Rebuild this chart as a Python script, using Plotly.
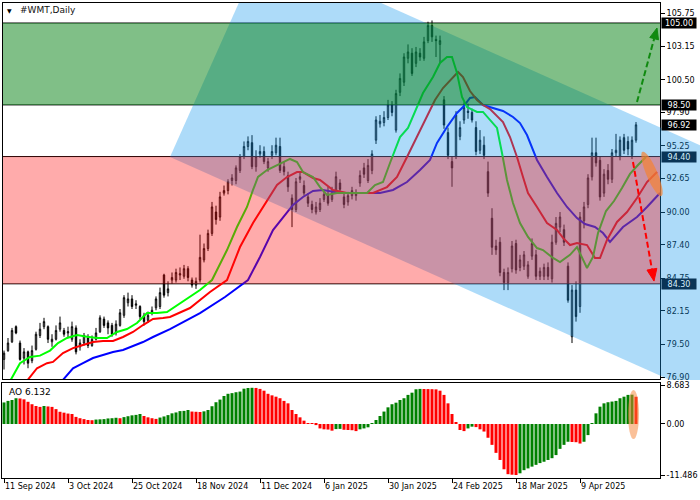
import math
import plotly.graph_objects as go

# ---------------- data ----------------
DATE_LABELS = ["11 Sep 2024", "3 Oct 2024", "25 Oct 2024", "18 Nov 2024", "11 Dec 2024",
               "6 Jan 2025", "30 Jan 2025", "24 Feb 2025", "18 Mar 2025", "9 Apr 2025"]
DATE_TICK_BARS = [0, 16, 32, 48, 64, 80, 96, 112, 128, 144]

OPEN = [78.3, 79.0, 79.7, 80.9, 79.6, 78.4, 78.9, 78.2, 79.1, 80.2,
        80.9, 80.9, 79.7, 79.9, 80.7, 80.6, 80.4, 79.9, 80.8, 79.3,
        79.6, 80.0, 79.4, 79.9, 80.5, 81.5, 81.2, 81.0, 80.4, 81.0,
        81.8, 82.8, 83.1, 82.6, 82.5, 81.8, 81.4, 82.0, 82.4, 82.5,
        85.0, 83.6, 84.6, 84.6, 85.0, 84.9, 85.5, 84.6, 84.2, 84.6,
        86.2, 87.1, 88.3, 90.0, 89.6, 91.5, 91.7, 92.5, 92.5, 93.3,
        94.4, 95.2, 95.5, 93.6, 94.6, 94.8, 93.5, 94.5, 94.7, 95.2,
        93.6, 92.9, 91.1, 90.2, 92.6, 92.1, 91.2, 90.6, 90.0, 90.2,
        91.0, 91.4, 91.0, 91.7, 92.3, 91.2, 90.8, 91.3, 91.3, 92.3,
        93.5, 92.5, 93.3, 95.7, 97.0, 97.1, 97.5, 98.5, 96.5, 99.5,
        100.3, 102.2, 102.6, 101.8, 102.6, 102.2, 103.6, 104.8, 103.7, 103.3,
        98.9, 96.3, 94.0, 94.4, 96.0, 97.3, 98.0, 97.9, 96.7, 94.9,
        95.3, 93.2, 89.5, 87.3, 87.6, 85.2, 84.4, 85.5, 87.5, 85.6,
        85.7, 84.9, 86.5, 86.6, 84.9, 84.9, 85.6, 84.7, 87.6, 88.8,
        88.6, 85.7, 80.1, 83.8, 82.5, 89.3, 90.6, 92.8, 94.7, 94.1,
        91.5, 93.3, 92.6, 94.7, 94.4, 95.9, 95.6, 94.5, 95.7]
HIGH = [79.0, 80.0, 80.8, 81.0, 79.8, 79.2, 79.0, 79.4, 80.5, 81.2,
        81.6, 81.0, 80.3, 81.0, 81.7, 80.8, 80.9, 81.3, 81.0, 79.9,
        80.4, 80.3, 80.2, 80.8, 81.8, 81.7, 81.4, 81.2, 81.4, 82.3,
        83.4, 83.6, 83.4, 83.0, 82.6, 82.0, 82.1, 82.5, 83.3, 84.0,
        85.1, 84.5, 85.2, 85.5, 85.6, 85.8, 85.7, 84.8, 84.8, 88.2,
        87.5, 88.6, 90.8, 90.5, 91.6, 92.1, 92.6, 93.0, 93.7, 94.6,
        95.6, 96.0, 96.1, 94.9, 95.3, 95.2, 94.3, 95.3, 95.9, 95.9,
        94.0, 93.2, 91.4, 92.7, 93.2, 92.5, 91.5, 90.9, 90.8, 91.1,
        91.7, 92.0, 92.0, 93.2, 92.6, 91.5, 91.6, 92.0, 91.8, 93.3,
        93.9, 94.2, 94.9, 97.6, 97.7, 98.0, 98.9, 98.8, 99.7, 101.0,
        102.6, 103.3, 103.0, 103.1, 103.0, 103.9, 105.1, 105.2, 104.0, 104.0,
        99.2, 96.7, 94.4, 98.0, 97.2, 98.7, 98.6, 98.2, 97.2, 96.5,
        96.0, 94.0, 90.3, 87.8, 88.0, 85.5, 85.6, 87.7, 87.8, 86.6,
        86.9, 86.1, 87.9, 87.0, 85.6, 85.9, 86.0, 88.2, 89.6, 90.0,
        89.0, 86.0, 84.2, 84.5, 90.0, 90.8, 93.0, 95.9, 95.9, 94.4,
        93.4, 93.8, 95.0, 96.2, 96.0, 96.2, 96.0, 96.0, 97.14]
LOW = [77.5, 78.9, 79.6, 80.3, 78.2, 77.9, 77.6, 78.0, 79.0, 80.0,
       80.7, 79.6, 79.3, 79.8, 80.5, 80.1, 80.0, 79.7, 78.7, 79.0,
       79.4, 79.2, 79.3, 79.8, 80.4, 80.8, 80.3, 80.1, 80.2, 80.9,
       81.6, 82.5, 82.3, 82.3, 81.5, 81.0, 81.2, 81.8, 82.2, 82.3,
       83.2, 83.3, 84.3, 84.4, 84.6, 84.7, 84.5, 84.0, 83.9, 84.4,
       86.0, 86.9, 88.1, 89.0, 89.3, 91.3, 91.4, 92.1, 92.2, 93.1,
       94.2, 94.9, 93.4, 93.2, 94.3, 93.8, 93.2, 94.2, 94.5, 93.1,
       92.9, 91.6, 88.8, 90.0, 92.3, 91.3, 90.4, 89.9, 89.8, 90.0,
       90.8, 90.5, 90.8, 91.5, 91.5, 90.3, 90.5, 91.0, 90.9, 92.0,
       92.7, 92.3, 93.0, 95.4, 96.7, 96.8, 97.3, 97.6, 96.3, 99.2,
       100.0, 101.8, 100.8, 101.5, 102.0, 102.0, 103.4, 103.5, 102.3, 101.8,
       96.6, 94.2, 92.0, 94.2, 95.7, 97.0, 97.4, 97.1, 94.5, 94.6,
       94.2, 91.2, 86.6, 86.6, 84.9, 83.8, 83.8, 85.2, 85.1, 85.3,
       85.4, 84.7, 86.2, 84.6, 84.6, 84.6, 84.6, 84.4, 87.4, 88.4,
       87.3, 82.8, 79.6, 81.3, 82.0, 88.7, 90.3, 92.5, 93.6, 90.9,
       91.2, 92.2, 92.3, 94.4, 94.1, 94.6, 94.5, 94.2, 95.5]
CLOSE = [78.8, 79.6, 80.6, 80.4, 78.3, 78.9, 78.0, 79.0, 80.3, 80.7,
         81.3, 79.9, 79.9, 80.6, 81.2, 80.3, 80.5, 80.9, 78.9, 79.6,
         80.2, 79.4, 79.9, 80.4, 81.6, 81.0, 80.8, 80.3, 81.1, 82.0,
         83.2, 83.1, 82.5, 82.7, 81.7, 81.3, 81.8, 82.2, 83.1, 83.6,
         83.4, 83.9, 84.8, 85.2, 85.1, 85.5, 84.8, 84.2, 84.5, 86.4,
         87.1, 88.3, 90.4, 89.4, 91.2, 91.7, 92.4, 92.7, 93.5, 94.4,
         95.2, 95.6, 93.6, 94.4, 94.8, 94.0, 94.0, 94.8, 95.3, 93.3,
         93.2, 92.0, 90.2, 92.4, 92.8, 91.5, 90.7, 90.2, 90.4, 90.7,
         91.4, 90.7, 91.5, 92.8, 91.8, 90.6, 91.3, 91.7, 91.5, 92.9,
         93.0, 93.7, 94.6, 97.3, 97.2, 97.5, 98.5, 97.9, 99.4, 100.6,
         102.3, 102.7, 101.0, 102.7, 102.3, 103.5, 104.8, 103.9, 103.6, 103.6,
         96.9, 94.5, 93.5, 97.7, 96.7, 98.3, 97.9, 97.3, 94.8, 95.7,
         94.5, 91.5, 87.2, 87.0, 85.2, 84.4, 85.2, 87.3, 85.4, 86.2,
         86.6, 85.8, 87.5, 84.9, 85.3, 85.6, 84.9, 87.6, 89.1, 89.6,
         87.6, 83.0, 83.8, 81.7, 89.6, 90.4, 92.7, 94.7, 93.9, 91.2,
         93.0, 92.6, 94.7, 94.9, 95.7, 94.9, 95.0, 95.7, 96.92]

# Alligator lines (bar position, price)
JAW_X = [14.0, 17.25, 19.75, 22.25, 24.75, 27.25, 29.75, 32.25, 34.75, 37.25, 39.75, 41.5,
         49.0, 55.25, 61.0, 64.0, 67.25, 69.75, 72.25, 74.75, 77.25, 79.75, 84.0, 89.0,
         94.0, 97.25, 100.75, 104.0, 106.5, 108.25, 110.75, 113.25, 114.75, 116.5, 117.75,
         119.75, 124.75, 127.25, 129.0, 130.75, 132.25, 133.25, 135.75, 138.25, 140.75,
         143.25, 145.25, 147.75, 149.75, 151.5, 154.75, 158.25, 160.75, 164.0]
JAW_Y = [76.4, 77.6, 78.0, 78.41, 78.65, 78.89, 79.05, 79.37, 79.68, 80.08, 80.48, 80.71,
         81.98, 83.25, 84.6, 86.43, 88.57, 89.6, 90.56, 91.19, 91.67, 91.75, 91.51, 91.51,
         91.51, 91.75, 92.38, 93.33, 94.13, 95.48, 96.75, 97.86, 98.33, 99.05, 99.13,
         98.49, 98.02, 97.54, 97.06, 96.11, 94.92, 94.13, 92.78, 91.51, 90.4,
         89.52, 89.05, 88.81, 88.33, 87.62, 88.81, 89.6, 90.4, 91.51]

TEETH_X = [5.5, 8.25, 10.75, 12.25, 14.75, 17.25, 19.75, 22.25, 24.75, 27.25, 29.75, 32.25,
           34.75, 37.25, 39.75, 41.5, 46.5, 51.5, 55.75, 59.0, 62.25, 65.75, 68.25, 70.75,
           73.25, 74.75, 77.25, 79.0, 82.25, 85.75, 89.0, 92.25, 95.75, 98.25, 100.75,
           103.25, 105.75, 107.75, 109.75, 112.0, 113.5, 114.75, 116.5, 118.25, 119.75,
           121.5, 124.75, 126.5, 128.25, 129.75, 131.0, 133.25, 135.75, 138.25, 139.75,
           141.5, 143.25, 145.75, 147.75, 149.0, 150.75, 153.25, 155.75, 158.25, 160.75, 163.25]
TEETH_Y = [76.5, 77.6, 78.0, 78.1, 78.8, 79.2, 79.44, 79.68, 79.76, 79.76, 80.08, 80.48,
           81.03, 81.51, 81.59, 81.67, 82.38, 83.65, 84.6, 87.22, 89.13, 90.95, 92.14, 92.78,
           93.17, 93.17, 92.7, 92.54, 91.75, 91.51, 91.51, 91.51, 91.98, 92.78, 94.37,
           95.95, 97.54, 98.89, 99.84, 100.63, 101.11, 100.71, 99.6, 98.89, 98.49,
           98.17, 97.14, 95.95, 94.37, 92.78, 91.51, 90.4, 89.13, 88.57, 87.94,
           87.38, 87.54, 87.38, 86.35, 86.35, 87.78, 89.21, 90.0, 91.11, 92.38, 93.17]

LIPS_X = [0.5, 4.0, 6.5, 9.0, 11.5, 13.5, 15.75, 18.25, 20.75, 23.25, 25.75, 28.25, 30.75,
          33.25, 35.75, 38.25, 40.75, 41.5, 46.5, 49.0, 52.0, 55.75, 58.25, 60.75, 62.25,
          63.5, 65.75, 68.25, 69.75, 71.5, 73.25, 74.75, 77.25, 79.0, 80.75, 83.25, 87.25,
          90.75, 92.75, 94.75, 96.5, 99.0, 101.0, 103.25, 104.75, 107.25, 109.0, 110.75,
          112.0, 113.25, 114.5, 115.75, 118.25, 119.75, 121.5, 123.25, 124.5, 125.75,
          127.25, 129.0, 131.0, 133.25, 134.75, 137.25, 139.0, 141.5, 143.25, 144.5,
          145.75, 147.25, 148.5, 150.5, 152.5, 154.5, 156.5, 158.5, 160.5]
LIPS_Y = [76.0, 78.0, 78.5, 78.6, 79.0, 79.6, 80.0, 80.24, 80.1, 80.0, 80.0, 80.48, 80.71,
          81.19, 81.98, 81.98, 82.06, 82.22, 83.25, 83.81, 84.6, 86.98, 88.81, 90.4, 91.75,
          92.78, 93.33, 93.73, 93.97, 94.21, 93.97, 93.17, 92.78, 91.98, 91.35, 91.51, 91.51,
          91.51, 92.14, 92.38, 93.89, 95.95, 96.67, 98.33, 99.44, 100.71, 101.83, 102.3,
          102.3, 101.03, 99.13, 98.33, 97.94, 97.94, 97.3, 96.67, 94.68, 92.54,
          90.71, 89.13, 88.02, 87.14, 86.98, 86.35, 86.03, 86.6, 87.22, 86.4,
          85.56, 86.43, 88.33, 90.08, 90.87, 91.9, 93.02, 93.73, 94.37]

AO = [4.85, 5.2, 5.4, 5.8, 5.75, 5.55, 5.0, 4.45, 4.05, 3.85,
      4.05, 3.95, 3.85, 3.35, 2.75, 2.55, 2.35, 2.25, 1.6, 1.3,
      1.1, 0.9, 0.85, 1.0, 1.05, 1.1, 1.25, 1.3, 1.4, 1.3,
      1.55, 1.75, 1.95, 2.05, 2.25, 1.8, 1.5, 1.3, 1.15, 1.45,
      1.7, 2.0, 2.4, 2.6, 2.9, 2.95, 3.15, 2.8, 2.75, 2.7,
      2.85, 3.15, 4.0, 4.9, 5.5, 6.3, 6.8, 6.95, 7.15, 7.3,
      7.95, 8.1, 8.15, 8.12, 7.9, 7.5, 6.8, 6.45, 6.15, 5.8,
      5.2, 4.65, 3.15, 2.25, 1.5, 0.75, 0.2, 0.08, -0.25, -1.0,
      -1.2, -1.25, -1.5, -1.15, -1.1, -1.3, -1.35, -1.4, -1.6, -1.2,
      -1.0, -0.75, 0.15, 0.9, 1.8, 2.8, 3.75, 4.45, 4.8, 5.4,
      5.8, 6.55, 7.05, 7.82, 7.9, 7.88, 7.86, 7.84, 7.8, 7.5,
      6.55, 4.65, 2.25, 0.3, -1.35, -1.6, -1.0, -0.6, -0.7, -1.2,
      -1.7, -3.1, -4.7, -6.5, -8.1, -10.2, -11.3, -11.42, -11.486, -11.1,
      -10.4, -10.0, -9.6, -9.2, -8.8, -8.5, -8.1, -7.7, -7.0, -5.6,
      -4.7, -4.0, -4.05, -4.1, -4.4, -4.0, -2.5, 0.15, 2.4, 3.9,
      4.65, 4.9, 5.05, 5.2, 5.8, 6.15, 6.55, 6.6, 6.132]

PRICE_TICKS = [105.75, 103.15, 100.50, 97.90, 95.25, 92.65, 90.00, 87.40, 84.75, 82.15, 79.50, 76.90]
AO_TICKS = [8.683, 0.0, -11.486]
AO_TICK_TEXT = ["8.683", "0.00", "-11.486"]

GREEN_ZONE = (98.50, 105.00)
RED_ZONE = (84.30, 94.40)
LAST_PRICE = 96.92
# trend channel corners (bar position, price)
CHANNEL = [(41.5, 94.37), (64.6, 110.79), (189.0, 93.18), (189.0, 73.48)]
UP_ARROW = ((158.25, 98.73), (163.25, 104.6))
DOWN_ARROW = ((157.25, 93.97), (162.5, 84.52))
ELLIPSE_MAIN = (162.0, 93.02)

# ---------------- layout geometry ----------------
W, H = 700, 500
ML, MR, MT, MB = 2, 0, 2, 22
SCALE_W = 40                      # width of the price scale strip
PAPER_W = W - ML - MR
PLOT_W = PAPER_W - SCALE_W
XD = PLOT_W / PAPER_W             # right end of the chart area in paper units
PLOT_H = H - MT - MB
X_RANGE = [-0.5, 164.0]
PXB = PLOT_W / (X_RANGE[1] - X_RANGE[0])
X_RANGE_FULL = [X_RANGE[0], X_RANGE[1] + SCALE_W / PXB]   # main window runs under the price scale
Y_RANGE = [76.667, 106.667]
AO_RANGE = [-12.16, 9.23]
MAIN_DOM = [98 / PLOT_H, 1.0]
AO_DOM = [0.0, 95 / PLOT_H]
PXP = PLOT_H * (MAIN_DOM[1] - MAIN_DOM[0]) / (Y_RANGE[1] - Y_RANGE[0])

N = len(CLOSE)
BARS = list(range(N))

fig = go.Figure()
fig.add_trace(go.Candlestick(
    x=BARS, open=OPEN, high=HIGH, low=LOW, close=CLOSE,
    increasing=dict(line=dict(color="black", width=1), fillcolor="white"),
    decreasing=dict(line=dict(color="black", width=1), fillcolor="black"),
    whiskerwidth=0, showlegend=False, hoverinfo="skip", xaxis="x", yaxis="y"))

for xs, ys, col in [(JAW_X, JAW_Y, "#0000FF"), (TEETH_X, TEETH_Y, "#FF0000"), (LIPS_X, LIPS_Y, "#00FF00")]:
    fig.add_trace(go.Scatter(x=xs, y=ys, mode="lines", line=dict(color=col, width=2),
                             showlegend=False, hoverinfo="skip", xaxis="x", yaxis="y"))

ao_colors = ["#008000" if (i == 0 or AO[i] > AO[i - 1]) else "#FF0000" for i in range(N)]
fig.add_trace(go.Bar(x=BARS, y=AO, width=0.75, marker=dict(color=ao_colors, line=dict(width=0)),
                     showlegend=False, hoverinfo="skip", xaxis="x2", yaxis="y2"))

shapes = []
for lvl in [GREEN_ZONE[1], GREEN_ZONE[0], RED_ZONE[1], RED_ZONE[0]]:
    shapes.append(dict(type="line", xref="paper", x0=0, x1=XD, yref="y", y0=lvl, y1=lvl,
                       line=dict(color="black", width=1), layer="below"))
BLUE = "rgb(21,152,238)"
path = "M " + " L ".join(f"{x},{y}" for x, y in CHANNEL) + " Z"
shapes.append(dict(type="path", path=path, xref="x", yref="y", fillcolor=BLUE,
                   opacity=0.35, line=dict(width=0), layer="above"))
shapes.append(dict(type="rect", xref="paper", x0=0, x1=XD, yref="y", y0=RED_ZONE[0], y1=RED_ZONE[1],
                   fillcolor="rgb(255,13,13)", opacity=0.35, line=dict(width=0), layer="above"))
shapes.append(dict(type="rect", xref="paper", x0=0, x1=XD, yref="y", y0=GREEN_ZONE[0], y1=GREEN_ZONE[1],
                   fillcolor="rgb(1,127,15)", opacity=0.5, line=dict(width=0), layer="above"))

# frame of the price window (top, bottom, left)
eps_y = 0.5 / PXP
eps_x = 0.5 / PXB
for yv in (Y_RANGE[1] - eps_y, Y_RANGE[0] + eps_y):
    shapes.append(dict(type="line", xref="x", x0=X_RANGE[0], x1=X_RANGE[1], yref="y", y0=yv, y1=yv,
                       line=dict(color="black", width=1), layer="above"))
shapes.append(dict(type="line", xref="x", x0=X_RANGE[0] + eps_x, x1=X_RANGE[0] + eps_x, yref="y",
                   y0=Y_RANGE[0], y1=Y_RANGE[1], line=dict(color="black", width=1), layer="above"))

cx, cy = ELLIPSE_MAIN
a, b, th = 24.0, 5.5, math.radians(67)
pts = []
for k in range(48):
    t = 2 * math.pi * k / 48
    dx = a * math.cos(t) * math.cos(th) - b * math.sin(t) * math.sin(th)
    dy = a * math.cos(t) * math.sin(th) + b * math.sin(t) * math.cos(th)
    pts.append((cx + dx / PXB, cy - dy / PXP))
shapes.append(dict(type="path", path="M " + " L ".join(f"{x:.3f},{y:.3f}" for x, y in pts) + " Z",
                   xref="x", yref="y", fillcolor="rgb(245,130,50)", opacity=0.7,
                   line=dict(width=0), layer="above"))


def arrow(start, tip, color, head_len, head_w):
    (x0, y0), (x1, y1) = start, tip
    dx, dy = (x1 - x0) * PXB, -(y1 - y0) * PXP
    L = math.hypot(dx, dy)
    ux, uy = dx / L, dy / L
    bx, by = -ux * head_len, -uy * head_len
    nx, ny = -uy * head_w, ux * head_w
    base = (x1 + bx / PXB, y1 - by / PXP)
    p1 = (x1 + (bx + nx) / PXB, y1 - (by + ny) / PXP)
    p2 = (x1 + (bx - nx) / PXB, y1 - (by - ny) / PXP)
    return [dict(type="line", xref="x", yref="y", x0=x0, y0=y0, x1=base[0], y1=base[1],
                 line=dict(color=color, width=2, dash="6px,3px"), layer="above"),
            dict(type="path", xref="x", yref="y",
                 path=f"M {x1},{y1} L {p1[0]:.3f},{p1[1]:.3f} L {p2[0]:.3f},{p2[1]:.3f} Z",
                 fillcolor=color, line=dict(color=color, width=1), layer="above")]


shapes += arrow(UP_ARROW[0], UP_ARROW[1], "#108A10", 11, 4.5)
shapes += arrow(DOWN_ARROW[0], DOWN_ARROW[1], "#FF0000", 12, 5)

shapes.append(dict(type="circle", xref="x2", yref="y2", x0=156.0, x1=158.75, y0=-3.38, y1=7.66,
                   fillcolor="rgb(245,130,50)", opacity=0.5, line=dict(width=0), layer="above"))

FONT = "DejaVu Sans, Verdana, sans-serif"
ann = []
for lvl, bg, fg in [(GREEN_ZONE[1], "black", "white"), (GREEN_ZONE[0], "black", "white"),
                    (LAST_PRICE, "black", "white"), (RED_ZONE[1], "#0A3456", "#D6ECFA"),
                    (RED_ZONE[0], "#0A3456", "#D6ECFA")]:
    ann.append(dict(xref="paper", x=XD, xanchor="left", xshift=1, yref="y", y=lvl, yanchor="middle",
                    text=f"{lvl:.2f}", showarrow=False, bgcolor=bg, width=34, height=10,
                    borderpad=0, align="center", font=dict(family=FONT, size=8, color=fg)))
ann.append(dict(xref="paper", x=(9.5 - ML) / PAPER_W, xanchor="center", yref="paper",
                y=(H - MB - 10) / PLOT_H, yanchor="middle", text="▼", showarrow=False,
                font=dict(family="DejaVu Sans", size=6, color="black")))
ann.append(dict(xref="paper", x=(18 - ML) / PAPER_W, xanchor="left", yref="paper",
                y=(H - MB - 10) / PLOT_H, yanchor="middle", text="#WMT,Daily", showarrow=False,
                font=dict(family=FONT, size=9, color="#111111")))
ann.append(dict(xref="paper", x=(7 - ML) / PAPER_W, xanchor="left", yref="paper",
                y=(H - MB - 392) / PLOT_H, yanchor="middle", text=f"AO {AO[-1]:.3f}", showarrow=False,
                font=dict(family=FONT, size=9, color="black")))

axis_common = dict(showgrid=False, zeroline=False, showline=True, linecolor="black",
                   linewidth=1, mirror=True)
fig.update_layout(
    width=W, height=H, margin=dict(l=ML, r=MR, t=MT, b=MB, autoexpand=False),
    paper_bgcolor="white", plot_bgcolor="rgba(0,0,0,0)", showlegend=False, boxgap=0.5,
    font=dict(family=FONT, size=8, color="black"),
    xaxis=dict(domain=[0, 1], range=X_RANGE_FULL, anchor="y", showticklabels=False, ticks="",
               showgrid=False, zeroline=False, showline=False, rangeslider=dict(visible=False)),
    yaxis=dict(domain=MAIN_DOM, range=Y_RANGE, anchor="free", position=XD, side="right",
               tickvals=PRICE_TICKS, ticktext=[f"{v:.2f}" for v in PRICE_TICKS],
               ticks="outside", ticklen=4, tickcolor="black", showgrid=False, zeroline=False,
               showline=True, linecolor="black", linewidth=1),
    xaxis2=dict(domain=[0, XD], range=X_RANGE, anchor="y2", tickvals=DATE_TICK_BARS,
                ticktext=DATE_LABELS, ticks="outside", ticklen=4, tickcolor="black",
                ticklabelposition="outside right", **axis_common),
    yaxis2=dict(domain=AO_DOM, range=AO_RANGE, anchor="x2", side="right",
                tickvals=AO_TICKS, ticktext=AO_TICK_TEXT, ticks="outside", ticklen=4,
                tickcolor="black", **axis_common),
    shapes=shapes, annotations=ann,
)

fig.write_html("out.html", config={"displayModeBar": False},
               post_script="document.body.style.margin='0px';document.body.style.overflow='hidden';")
